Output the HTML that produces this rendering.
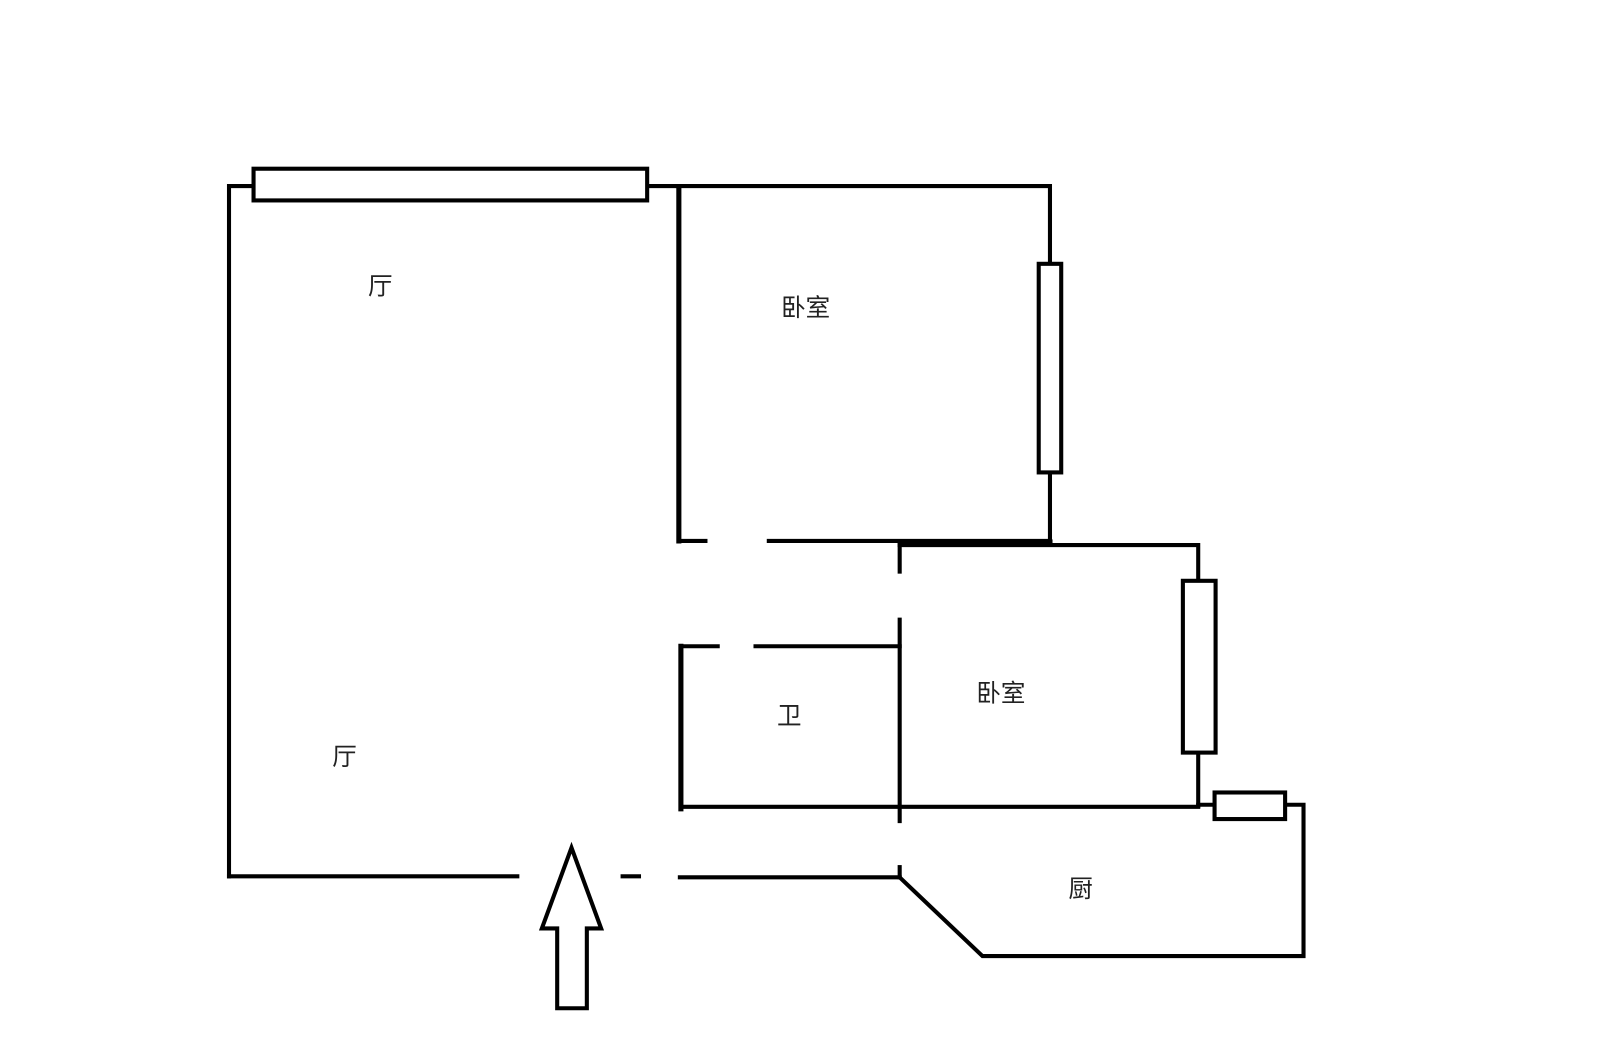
<!DOCTYPE html>
<html><head><meta charset="utf-8"><style>
html,body{margin:0;padding:0;background:#fff;}
svg{display:block;}
text{font-family:"Liberation Sans","Noto Sans CJK SC",sans-serif;font-size:24px;fill:#222;}
</style></head><body>
<svg width="1600" height="1043" viewBox="0 0 1565 1020" preserveAspectRatio="none" xmlns="http://www.w3.org/2000/svg">
<g stroke="#000" stroke-width="4" fill="none" stroke-linecap="square">
<polyline points="224,857 224,182 663,182"/>
<rect x="248" y="165" width="385" height="31" fill="#fff"/>
<polyline points="663,182 1027,182 1027,530"/>
<rect x="1016" y="258" width="22" height="204" fill="#fff"/>
<line x1="664" y1="184" x2="664" y2="529" stroke-width="5"/>
<line x1="664" y1="529" x2="690" y2="529"/>
<line x1="752" y1="529" x2="1027" y2="529"/>
<line x1="900" y1="530" x2="1027" y2="530" stroke-width="5"/>
<polyline points="880,533 1172,533 1172,788"/>
<rect x="1157" y="568" width="32" height="168" fill="#fff"/>
<line x1="880" y1="533" x2="880" y2="559"/>
<line x1="880" y1="606" x2="880" y2="803"/>
<line x1="880" y1="848" x2="880" y2="858"/>
<line x1="666" y1="632" x2="702" y2="632"/>
<line x1="739" y1="632" x2="880" y2="632"/>
<line x1="666" y1="632" x2="666" y2="791" stroke-width="5"/>
<line x1="666" y1="789" x2="1172" y2="789"/>
<polyline points="1172,787 1275,787 1275,935 961,935 880,858"/>
<rect x="1188" y="775" width="69" height="26" fill="#fff"/>
<line x1="224" y1="857" x2="506" y2="857"/>
<line x1="609" y1="857" x2="625" y2="857"/>
<line x1="665" y1="858" x2="880" y2="858"/>
<polygon points="559,829 530,908 545,908 545,986 574,986 574,908 588,908" stroke-linejoin="miter"/>
</g>
<text x="360" y="288">厅</text>
<text x="764" y="309">卧室</text>
<text x="325" y="748">厅</text>
<text x="760" y="708">卫</text>
<text x="955" y="686">卧室</text>
<text x="1045" y="877">厨</text>
</svg>
</body></html>
